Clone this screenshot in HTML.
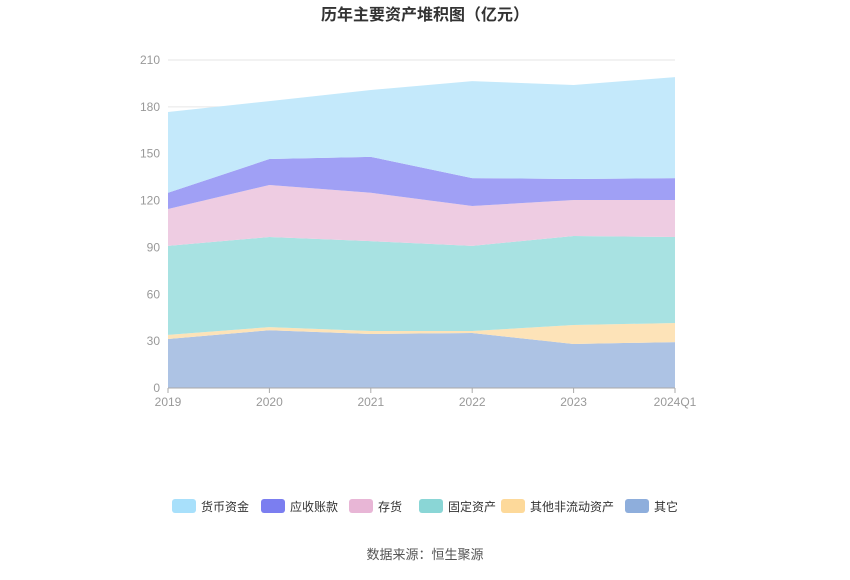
<!DOCTYPE html>
<html><head><meta charset="utf-8"><style>
body{margin:0;background:#fff;font-family:"Liberation Sans","Noto Sans CJK SC",sans-serif;}
svg text{font-family:"Liberation Sans","Noto Sans CJK SC",sans-serif;}
</style></head><body>
<svg id="c" width="850" height="575">
<text x="425" y="20" text-anchor="middle" font-size="16" font-weight="bold" fill="#333">历年主要资产堆积图（亿元）</text>
<g id="grid"></g><g id="areas"></g><g id="axes"></g><g id="legend"></g>
<text x="425" y="559" text-anchor="middle" font-size="13" fill="#555">数据来源：恒生聚源</text>
</svg>
<script>
const categories=["2019","2020","2021","2022","2023","2024Q1"];
const seriesNames=["货币资金","应收账款","存货","固定资产","其他非流动资产","其它"];
const other=[31.4,37,34.6,35.2,28.2,29.4];
const nonCurrent=[2.6,2,1.9,1.3,12.1,12.2];
const fixedAssets=[57,57.7,57.5,54.5,57,55.1];
const inventory=[23.6,33.3,31,25.5,23.1,23.7];
const receivables=[10.4,16.6,23,17.9,13.4,14];
const cash=[51.7,37.1,42.8,62.1,60.2,64.6];
const yTicks=[0,30,60,90,120,150,180,210];
const ns="http://www.w3.org/2000/svg";
const X0=168,X1=675,Y0=388,Y1=60;
const x=i=>X0+(X1-X0)*i/(categories.length-1);
const y=v=>Y0-(Y0-Y1)*v/210;
function mk(t,a,p){const e=document.createElementNS(ns,t);for(const k in a)e.setAttribute(k,a[k]);p.appendChild(e);return e;}
const grid=document.getElementById('grid'),axes=document.getElementById('axes'),areas=document.getElementById('areas'),legend=document.getElementById('legend');
yTicks.forEach(t=>{
 const l=mk('line',{x1:X0,x2:X1,y1:y(t),y2:y(t),stroke:'#e6e6e6'},grid);
 
 
 const tx=mk('text',{x:X0-8,y:y(t)+4,'text-anchor':'end','font-size':12,fill:'#999'},axes);
 tx.textContent=t;
 
 
});
const al=mk('line',{x1:X0,x2:X1,y1:Y0,y2:Y0,stroke:'#aaa'},axes);


categories.forEach((c,i)=>{
 mk('line',{x1:x(i),x2:x(i),y1:Y0,y2:Y0+5,stroke:'#aaa'},axes);
 const tx=mk('text',{x:x(i),y:Y0+18,'text-anchor':'middle','font-size':12,fill:'#999'},axes);
 tx.textContent=c;
 
 
});
const stack=[other,nonCurrent,fixedAssets,inventory,receivables,cash];
const fills=['#adc3e4','#fde3b8','#a8e2e2','#eecce2','#a0a0f5','#c4e9fb'];
const lcol=['#8eaedc','#fdd99a','#8ad6d6','#e8b6d6','#7b7ef0','#a8e0fb'];
const names=['其它','其他非流动资产','固定资产','存货','应收账款','货币资金'];
const dn=['area-other','area-non-current','area-fixed-assets','area-inventory','area-receivables','area-cash'];
let base=categories.map(()=>0);
stack.forEach((s,k)=>{
 const top=base.map((b,i)=>b+s[i]);
 let d='M'+top.map((v,i)=>x(i)+','+y(v)).join('L');
 for(let i=base.length-1;i>=0;i--)d+='L'+x(i)+','+y(base[i]);
 const p=mk('path',{d:d+'Z',fill:fills[k],stroke:'none'},areas);
 
 
 base=top;
});
const lx=[172,261,349,419,501,625];
seriesNames.forEach((n,i)=>{
 const k=5-i;
 const g=mk('g',{},legend);
 
 
 mk('rect',{x:lx[i],y:499,width:24,height:14,rx:3,fill:lcol[k]},g);
 const t=mk('text',{x:lx[i]+29,y:511,'font-size':12,fill:'#333'},g);
 t.textContent=n;
});
</script>
</body></html>
